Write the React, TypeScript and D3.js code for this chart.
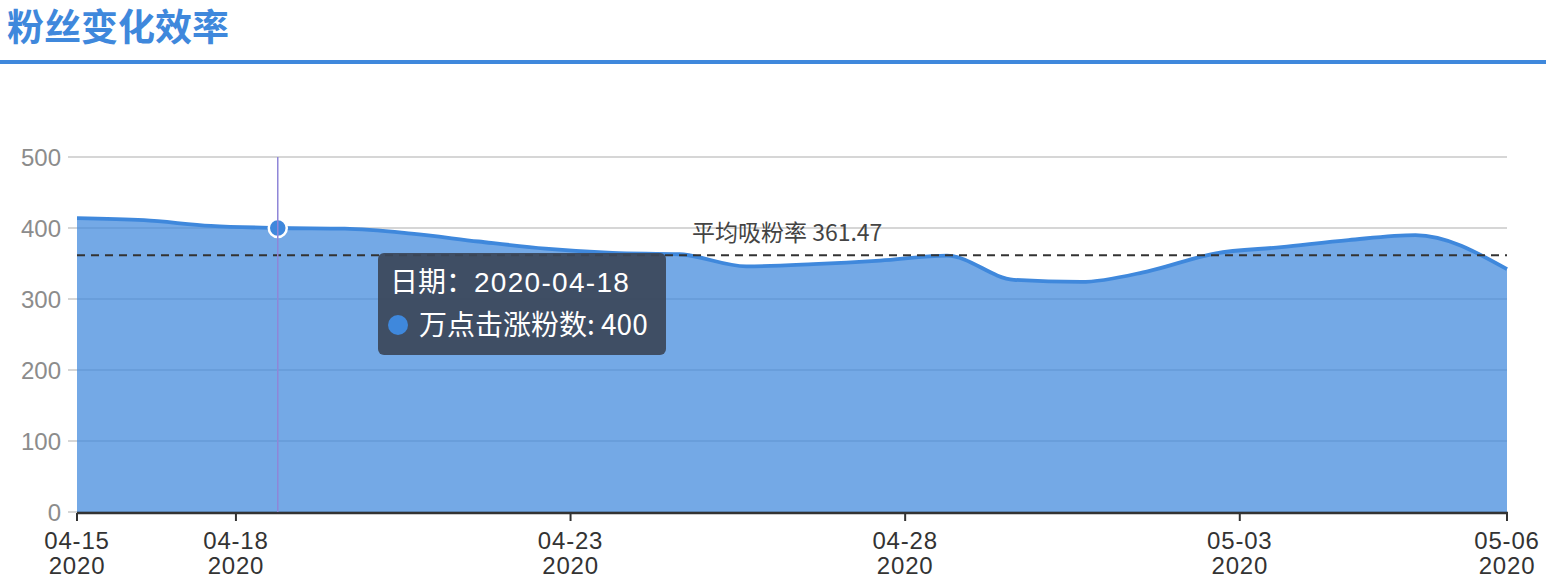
import { useEffect, useRef } from 'react';
import * as d3 from 'd3';

// daily snapshots (last one taken later in the day)
const dates = [
  '2020-04-15 15:00', '2020-04-16 15:00', '2020-04-17 15:00', '2020-04-18 15:00',
  '2020-04-19 15:00', '2020-04-20 15:00', '2020-04-21 15:00', '2020-04-22 15:00',
  '2020-04-23 15:00', '2020-04-24 15:00', '2020-04-25 15:00', '2020-04-26 15:00',
  '2020-04-27 15:00', '2020-04-28 15:00', '2020-04-29 15:00', '2020-04-30 15:00',
  '2020-05-01 15:00', '2020-05-02 15:00', '2020-05-03 15:00', '2020-05-04 15:00',
  '2020-05-05 15:00', '2020-05-06 23:50',
];
const fansPer10k = [
  414, 411, 403, 400, 399, 392, 381, 371, 365, 363, 346,
  349, 354, 361, 327, 324, 339, 364, 373, 383, 390, 342,
];
const midTicks = ['2020-04-18 00:00', '2020-04-23 00:00', '2020-04-28 00:00', '2020-05-03 00:00'];
const yTicks = [0, 100, 200, 300, 400, 500];

const title = '粉丝变化效率';
const seriesName = '万点击涨粉数';
const avgLabel = '平均吸粉率';
const avgValue = 361.47;
const activeIndex = 3;

const W = 1546;
const H = 586;
const BLUE = '#3f88dc';
const FONT = '"Liberation Sans", "Noto Sans CJK SC", sans-serif';
const CJK = '"Noto Sans CJK SC", "Liberation Sans", sans-serif';

export default function App() {
  const svgRef = useRef<SVGSVGElement>(null);

  useEffect(() => {
    if (!svgRef.current) return;
    const svg = d3.select(svgRef.current);
    svg.selectAll('*').remove();

    const parse = d3.timeParse('%Y-%m-%d %H:%M');
    const data = dates.map((d, i) => ({ date: parse(d) as Date, value: fansPer10k[i] }));

    const x = d3
      .scaleTime()
      .domain(d3.extent(data, (d) => d.date) as [Date, Date])
      .range([77, 1507]);
    const y = d3.scaleLinear().domain([0, 500]).range([512, 157]);

    // header
    svg
      .append('text')
      .attr('x', 7)
      .attr('y', 41)
      .attr('font-family', CJK)
      .attr('font-weight', 'bold')
      .attr('font-size', 37)
      .attr('fill', BLUE)
      .text(title);
    svg.append('rect').attr('x', 0).attr('y', 60).attr('width', W).attr('height', 4).attr('fill', BLUE);

    // grid + y labels
    const grid = svg.append('g');
    yTicks.forEach((t) => {
      grid
        .append('line')
        .attr('x1', 68)
        .attr('x2', 1507)
        .attr('y1', y(t))
        .attr('y2', y(t))
        .attr('stroke', '#c8c8c8')
        .attr('stroke-width', 1.5);
      grid
        .append('text')
        .attr('x', 61)
        .attr('y', y(t))
        .attr('dy', '0.36em')
        .attr('text-anchor', 'end')
        .attr('font-family', FONT)
        .attr('font-size', 24)
        .attr('fill', '#8c8c8c')
        .text(t);
    });

    // area + line
    const area = d3
      .area<(typeof data)[0]>()
      .x((d) => x(d.date))
      .y0(y(0))
      .y1((d) => y(d.value))
      .curve(d3.curveMonotoneX);
    svg.append('path').datum(data).attr('fill', BLUE).attr('fill-opacity', 0.72).attr('d', area);

    const line = d3
      .line<(typeof data)[0]>()
      .x((d) => x(d.date))
      .y((d) => y(d.value))
      .curve(d3.curveMonotoneX);
    svg
      .append('path')
      .datum(data)
      .attr('fill', 'none')
      .attr('stroke', BLUE)
      .attr('stroke-width', 3.8)
      .attr('d', line);

    // average guide
    svg
      .append('line')
      .attr('x1', 77)
      .attr('x2', 1507)
      .attr('y1', y(avgValue))
      .attr('y2', y(avgValue))
      .attr('stroke', '#333')
      .attr('stroke-width', 2)
      .attr('stroke-dasharray', '8,6');
    svg
      .append('text')
      .attr('x', 692)
      .attr('y', y(avgValue) - 14)
      .attr('font-family', CJK)
      .attr('font-size', 23)
      .attr('fill', '#444')
      .text(`${avgLabel} ${avgValue}`);

    // x axis
    const tickDates = [x.domain()[0], ...midTicks.map((d) => parse(d) as Date), x.domain()[1]];
    const axis = svg.append('g').attr('transform', `translate(0,${y(0) + 1})`);
    axis
      .append('line')
      .attr('x1', 77)
      .attr('x2', 1508)
      .attr('stroke', '#333')
      .attr('stroke-width', 2.5);
    const tick = axis
      .selectAll('.tick')
      .data(tickDates)
      .enter()
      .append('g')
      .attr('class', 'tick')
      .attr('transform', (d) => `translate(${x(d)},0)`);
    tick.append('line').attr('y2', 8).attr('stroke', '#333').attr('stroke-width', 2);
    const label = tick
      .append('text')
      .attr('text-anchor', 'middle')
      .attr('font-family', FONT)
      .attr('font-size', 24)
      .attr('letter-spacing', 0.8)
      .attr('fill', '#333');
    label.append('tspan').attr('x', 0).attr('y', 36).text((d) => d3.timeFormat('%m-%d')(d));
    label.append('tspan').attr('x', 0).attr('y', 61).text((d) => d3.timeFormat('%Y')(d));

    // hover state
    const active = data[activeIndex];
    const ax = x(active.date);
    const ay = y(active.value);
    svg
      .append('circle')
      .attr('cx', ax)
      .attr('cy', ay)
      .attr('r', 9)
      .attr('fill', BLUE)
      .attr('stroke', '#fff')
      .attr('stroke-width', 2.5);
    svg
      .append('line')
      .attr('x1', ax)
      .attr('x2', ax)
      .attr('y1', y(500))
      .attr('y2', y(0))
      .attr('stroke', '#8f86d8')
      .attr('stroke-width', 1.5);

    const tip = svg.append('g').attr('transform', 'translate(378,253)');
    tip
      .append('rect')
      .attr('width', 288)
      .attr('height', 102)
      .attr('rx', 6)
      .attr('fill', '#3b4759')
      .attr('fill-opacity', 0.93);
    tip
      .append('text')
      .attr('x', 12)
      .attr('y', 39)
      .attr('font-family', CJK)
      .attr('font-size', 28)
      .attr('fill', '#fff')
      .text('日期：');
    tip
      .append('text')
      .attr('x', 96)
      .attr('y', 39)
      .attr('font-family', FONT)
      .attr('font-size', 28)
      .attr('letter-spacing', 1.3)
      .attr('fill', '#fff')
      .text(d3.timeFormat('%Y-%m-%d')(active.date));
    tip.append('circle').attr('cx', 20).attr('cy', 72).attr('r', 10).attr('fill', BLUE);
    tip
      .append('text')
      .attr('x', 41)
      .attr('y', 82)
      .attr('font-family', CJK)
      .attr('font-size', 28)
      .attr('fill', '#fff')
      .text(`${seriesName}: ${active.value}`);
  }, []);

  return (
    <div style={{ position: 'absolute', left: 0, top: 0, background: '#fff' }}>
      <svg ref={svgRef} width={W} height={H} />
    </div>
  );
}
